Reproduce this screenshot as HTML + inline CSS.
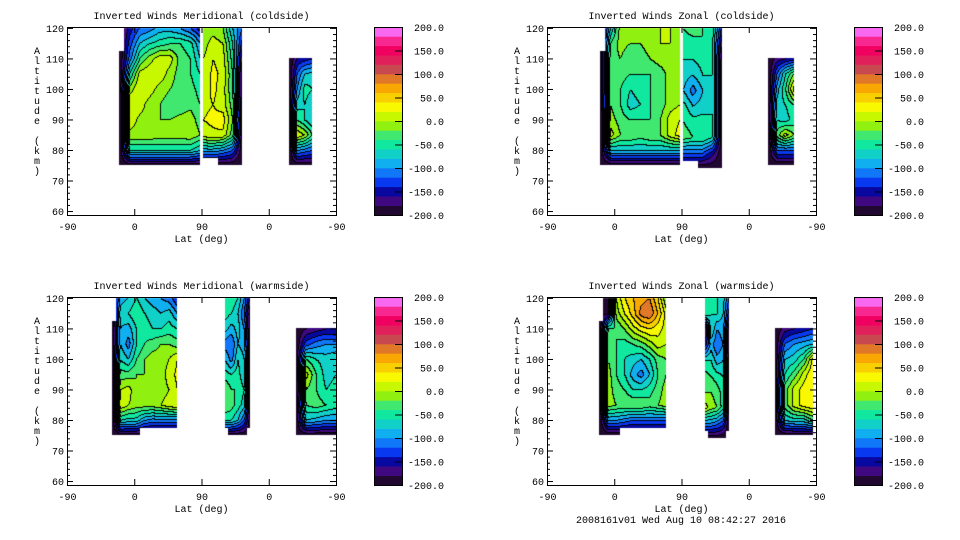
<!DOCTYPE html>
<html><head><meta charset="utf-8">
<style>
html,body{margin:0;padding:0;background:#fff;}
#root{position:relative;width:960px;height:540px;overflow:hidden;background:#fff;font-family:"Liberation Mono","DejaVu Sans Mono",monospace;}
canvas{position:absolute;}
svg{position:absolute;left:0;top:0;}
text{font-family:"Liberation Mono","DejaVu Sans Mono",monospace;font-size:10px;fill:#000;}
</style></head>
<body>
<div id="root">
<svg id="svg" width="960" height="540"></svg>
</div>
<script>
// ---- data ----
const xTickLabels = ["-90","0","90","0","-90"];
const xTickUnits = [0,90,180,270,360];
const yTickLabels = ["60","70","80","90","100","110","120"];
const yTickValues = [60,70,80,90,100,110,120];
const cbarLabels = ["200.0","150.0","100.0","50.0","0.0","-50.0","-100.0","-150.0","-200.0"];
const cbarValues = [200,150,100,50,0,-50,-100,-150,-200];
const bandColors = ["#200830","#400880","#0808a0","#0838f0","#1078f8","#10b0f0","#10d0c8","#10e8a0","#40e870","#90f010","#c8f800","#f8f800","#f8d000","#f8a800","#e07828","#c84850","#e0205a","#f00060","#f82890","#f868f0"];
const panelTitles = ["Inverted Winds Meridional (coldside)","Inverted Winds Zonal (coldside)","Inverted Winds Meridional (warmside)","Inverted Winds Zonal (warmside)"];
const N=null;
const tlBlocks = [
 {x0:70,x1:178,a0:75,a1:120,v:[
 [N,-150,-120,-110,-90,-90,-100,-120,-150],
 [N,-130,-80,-60,-50,-40,-40,-50,-100],
 [-200,-110,-40,-10,15,10,-30,-40,-80],
 [-200,-60,10,20,15,-10,-30,-40,-60],
 [-200,-10,20,10,-10,-20,-30,-30,-50],
 [-220,20,10,-10,-20,-30,-30,-25,-40],
 [-220,10,-5,-10,-20,-20,-15,-10,-30],
 [-220,-5,-5,-5,-10,-10,-10,-5,-20],
 [-200,-60,-60,-60,-60,-60,-60,-60,-80],
 [-200,-200,-200,-200,-200,-200,-200,-200,-200]]},
 {x0:182,x1:234,a0:75,a1:120,v:[
 [-20,-10,-20,-80,-120],[-10,10,0,-60,-150],[0,20,10,-50,-180],[5,25,15,-40,-200],
 [10,25,10,-40,-200],[15,20,10,-30,-200],[20,25,30,-20,-200],[10,15,15,-30,-200],
 [-90,-90,-100,-120,-200],[N,N,-200,-200,-200]]},
 {x0:297,x1:328,a0:75,a1:110,v:[
 [-200,-160,-150,-140],[-200,-120,-80,-70],[-200,-100,-50,-60],[-200,-70,-60,-80],
 [-200,-40,-60,-80],[-200,20,0,-40],[-200,-100,-110,-120],[-200,-200,-200,-200]]}
];
const trBlocks = [
 {x0:71,x1:178,a0:75,a1:120,v:[
 [N,-80,-10,-10,-10,-10,0,0,-20],
 [N,-40,-10,-20,-20,-10,0,0,-10],
 [-200,-30,-20,-40,-30,-20,-10,-10,-20],
 [-200,-30,-30,-40,-40,-40,-30,-10,-10],
 [-200,-30,-40,-60,-50,-40,-30,-10,-10],
 [-200,-20,-40,-70,-60,-40,-30,-10,0],
 [-220,-10,-30,-40,-40,-40,-20,10,20],
 [-220,10,-20,-20,-30,-20,-20,10,30],
 [-200,-80,-80,-80,-80,-80,-80,-80,-80],
 [-200,-200,-200,-200,-200,-200,-200,-200,-200]]},
 {x0:182,x1:234,a0:74,a1:120,v:[
 [-40,-30,-40,-50,-150],[-50,-50,-40,-60,-180],[-60,-60,-50,-60,-200],[-70,-80,-60,-60,-200],
 [-80,-110,-80,-60,-200],[-50,-80,-70,-60,-200],[-40,-50,-50,-60,-200],[-30,-40,-40,-60,-200],
 [-120,-120,-120,-150,-200],[N,N,-200,-200,-200]]},
 {x0:296,x1:330,a0:75,a1:110,v:[
 [-200,-170,-160,-150],[-200,-120,-60,-20],[-200,-90,-40,30],[-200,-70,-60,-40],
 [-200,-60,-70,-50],[-200,-30,10,-20],[-200,-120,-120,-120],[-200,-200,-200,-200]]}
];
const blBlocks = [
 {x0:60,x1:147,a0:75,a1:120,v:[
 [N,-90,-80,-60,-80,-90,-100,-110,-140],
 [N,-70,-60,-40,-60,-70,-80,-70,-100],
 [-200,-80,-90,-60,-50,-60,-60,-50,-60],
 [-200,-80,-110,-60,-40,-30,-20,-20,-30],
 [-200,-60,-80,-40,-20,-10,-10,0,20],
 [-200,-30,-30,-20,-20,-20,-10,10,25],
 [-220,0,10,-20,-20,-20,-10,0,20],
 [-220,20,0,-10,-10,-10,0,10,20],
 [-200,-60,-70,-70,-100,-110,-110,-110,-110],
 [-200,-200,-200,-200,N,N,N,N,N]]},
 {x0:211,x1:245,a0:75,a1:120,v:[
 [-60,-40,-60,-100,-170],[-50,-60,-80,-120,-200],[-70,-90,-70,-100,-200],[-110,-120,-80,-90,-200],
 [-80,-110,-60,-80,-200],[-50,-60,-50,-80,-200],[-20,-40,-40,-60,-200],[-20,-30,-50,-70,-200],
 [-60,-60,-80,-120,-200],[N,-200,-200,-200,N]]},
 {x0:306,x1:360,a0:75,a1:110,v:[
 [-200,-180,-170,-160,-160],[-200,-130,-110,-100,-100],[-200,-40,-60,-70,-60],[-220,10,-40,-70,-60],
 [-220,-20,-40,-60,-50],[-200,-40,-30,-40,-50],[-200,-80,-90,-100,-100],[-200,-200,-200,-200,-200]]}
];
const brBlocks = [
 {x0:70,x1:159,a0:75,a1:120,v:[
 [N,-200,0,40,60,70,80,40,-20],
 [N,-180,-10,20,50,90,100,60,10],
 [-200,-40,-40,-20,10,30,40,30,10],
 [-200,-30,-40,-50,-40,-30,-10,10,0],
 [-200,-20,-40,-60,-70,-80,-60,-30,-20],
 [-200,-10,-40,-60,-90,-110,-80,-40,-20],
 [-200,-10,-30,-40,-60,-60,-50,-30,-10],
 [-200,-10,-20,-20,-20,-20,-30,-20,-10],
 [-200,-100,-100,-110,-120,-120,-120,-120,-120],
 [-200,-200,-200,N,N,N,N,N,N]]},
 {x0:211,x1:243,a0:74,a1:120,v:[
 [-50,-40,-60,-70,-120],[-50,-60,-60,-80,-150],[-200,-60,-100,-90,-200],[-150,-90,-120,-100,-200],
 [-60,-60,-90,-80,-200],[-30,-40,-50,-60,-200],[-20,-20,-30,-50,-200],[10,-10,-20,-50,-200],
 [-100,-100,-110,-130,-200],[N,-200,-200,-200,N]]},
 {x0:305,x1:356,a0:75,a1:110,v:[
 [-200,-170,-160,-150,-140],[-200,-120,-100,-90,-80],[-200,-80,-70,-40,30],[-200,-60,-30,10,40],
 [-200,-30,10,30,40],[-200,-30,10,30,40],[-200,-80,-70,-70,-40],[-200,-200,-200,-200,-200]]}
];
const panelBlocks = [tlBlocks,trBlocks,blBlocks,brBlocks];
const panelNames = ["meridional-coldside","zonal-coldside","meridional-warmside","zonal-warmside"];

// ---- layout ----
const PW=269, PH=188, ATOP=120.3, ABOT=58.7;
const lefts=[67,547,67,547], tops=[27,27,297,297];
function xScale(u){return u/360*PW;}
function yScale(a){return (ATOP-a)/(ATOP-ABOT)*PH;}
const svg=document.getElementById('svg');
const NS="http://www.w3.org/2000/svg";
function mk(tag,attrs,parent){const e=document.createElementNS(NS,tag);for(const k in attrs)e.setAttribute(k,attrs[k]);(parent||svg).appendChild(e);return e;}

function valueAt(blocks,u,a){
 for(const b of blocks){
  if(u<b.x0||u>b.x1||a<b.a0||a>b.a1)continue;
  const nr=b.v.length,nc=b.v[0].length;
  const fx=(u-b.x0)/(b.x1-b.x0)*(nc-1), fy=(b.a1-a)/(b.a1-b.a0)*(nr-1);
  if(b.v[Math.round(fy)][Math.round(fx)]===null)return null;
  const i0=Math.min(Math.floor(fx),nc-2), j0=Math.min(Math.floor(fy),nr-2);
  const tx=fx-i0, ty=fy-j0;
  const g=(j,i)=>{const v=b.v[j][i];return v===null?-200:v;};
  return g(j0,i0)*(1-tx)*(1-ty)+g(j0,i0+1)*tx*(1-ty)+g(j0+1,i0)*(1-tx)*ty+g(j0+1,i0+1)*tx*ty;
 }
 return null;
}
function band(v){return Math.max(0,Math.min(19,Math.floor((v+200)/20)));}
function hex(c){return [parseInt(c.substr(1,2),16),parseInt(c.substr(3,2),16),parseInt(c.substr(5,2),16)];}
const rgb=bandColors.map(hex);

for(let p=0;p<4;p++){
 const L=lefts[p],T=tops[p];
 const cv=document.createElement('canvas');
 cv.width=PW;cv.height=PH;cv.style.left=L+'px';cv.style.top=T+'px';
 
 
 document.getElementById('root').insertBefore(cv,svg);
 const ctx=cv.getContext('2d');const img=ctx.createImageData(PW,PH);
 const bands=new Int16Array(PW*PH);
 for(let y=0;y<PH;y++)for(let x=0;x<PW;x++){
  const u=(x+0.5)/PW*360, a=ATOP-(y+0.5)/PH*(ATOP-ABOT);
  const v=valueAt(panelBlocks[p],u,a);
  bands[y*PW+x]=v===null?-1:band(v);
 }
 for(let y=0;y<PH;y++)for(let x=0;x<PW;x++){
  const k=y*PW+x,b=bands[k],o=k*4;
  if(b<0){img.data[o]=img.data[o+1]=img.data[o+2]=255;img.data[o+3]=255;continue;}
  let c=rgb[b];
  const l=x>0?bands[k-1]:-1, t=y>0?bands[k-PW]:-1;
  if((l>=0&&l!==b)||(t>=0&&t!==b))c=[0,0,0];
  img.data[o]=c[0];img.data[o+1]=c[1];img.data[o+2]=c[2];img.data[o+3]=255;
 }
 ctx.putImageData(img,0,0);

 const fr=mk('rect',{x:L+0.5,y:T+0.5,width:PW,height:PH,fill:'none',stroke:'#000','stroke-width':1});
 
 
 const tt=mk('text',{x:L+PW/2,y:T-8,'text-anchor':'middle'});tt.textContent=panelTitles[p];
 
 
 for(let a=60;a<=120;a+=2){
  const y=T+yScale(a)+0.5, len=(a%10===0)?6:3;
  mk('line',{x1:L,x2:L+len,y1:y,y2:y,stroke:'#000'});
  mk('line',{x1:L+PW-len,x2:L+PW,y1:y,y2:y,stroke:'#000'});
 }
 yTickValues.forEach((val,i)=>{
  const t=mk('text',{x:L-3,y:T+yScale(val)+4,'text-anchor':'end'});t.textContent=yTickLabels[i];
  
  
 });
 xTickUnits.forEach((u,i)=>{
  const x=L+xScale(u)+0.5;
  mk('line',{x1:x,x2:x,y1:T+PH,y2:T+PH-6,stroke:'#000'});
  mk('line',{x1:x,x2:x,y1:T,y2:T+6,stroke:'#000'});
  const t=mk('text',{x:x,y:T+PH+15,'text-anchor':'middle'});t.textContent=xTickLabels[i];
  
  
 });
 const xt=mk('text',{x:L+PW/2,y:T+PH+27,'text-anchor':'middle'});xt.textContent="Lat (deg)";
 
 
 const letters="Altitude (km)";
 for(let i=0;i<letters.length;i++){
  const t=mk('text',{x:L-30,y:T+27+i*10,'text-anchor':'middle'});t.textContent=letters[i];
  
  
 }
 const CX=L+307, CW=28, bh=PH/20;
 const cg=mk('g',{});
 
 
 bandColors.forEach((c,i)=>{mk('rect',{x:CX,y:T+PH-(i+1)*bh,width:CW,height:bh+0.3,fill:c},cg);});
 mk('rect',{x:CX+0.5,y:T+0.5,width:CW,height:PH,fill:'none',stroke:'#000'},cg);
 cbarValues.forEach((val,i)=>{
  const y=T+(200-val)/400*PH;
  if(val<200&&val>-200)mk('line',{x1:CX+CW-7,x2:CX+CW,y1:y+0.5,y2:y+0.5,stroke:'#000'},cg);
  const t=mk('text',{x:L+377,y:y+4,'text-anchor':'end'});t.textContent=cbarLabels[i];
  
  
 });
}
const ft=mk('text',{x:681,y:523,'text-anchor':'middle'});ft.textContent="2008161v01 Wed Aug 10 08:42:27 2016";


</script>
</body></html>
